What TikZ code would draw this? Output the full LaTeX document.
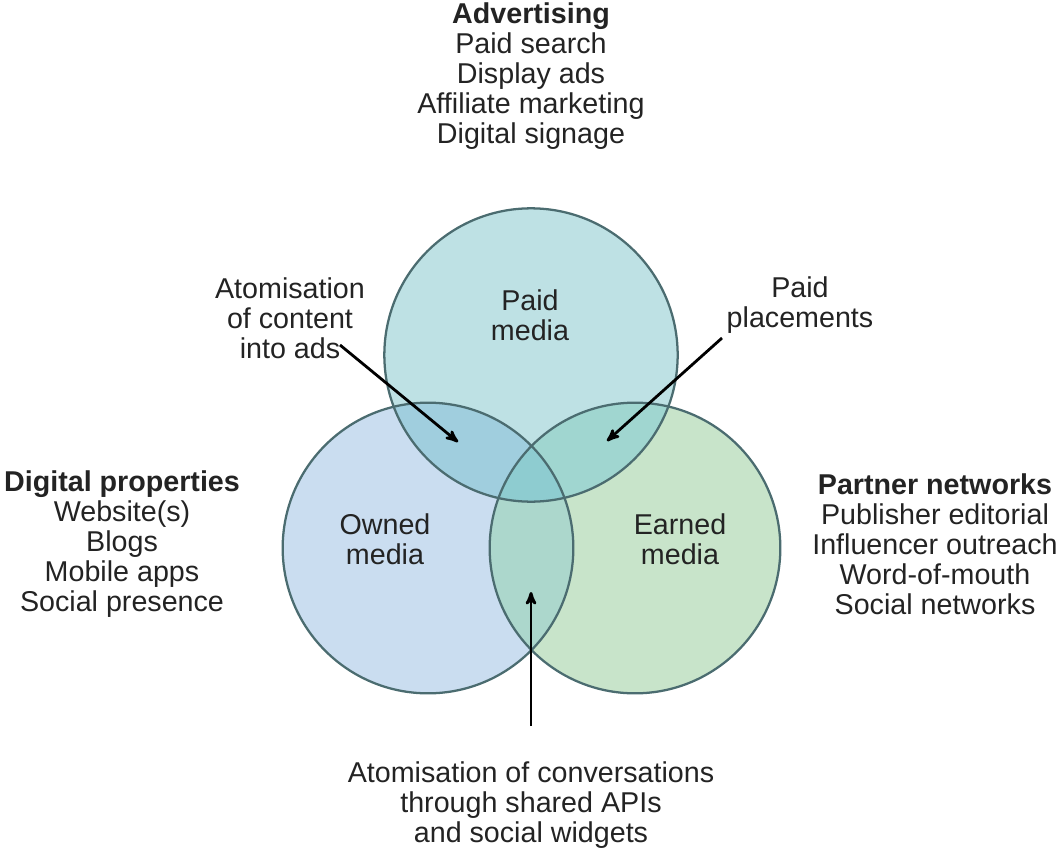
\documentclass[tikz,border=0pt]{standalone}
\usepackage{fontspec}
\setmainfont{Liberation Sans}
\usepackage{tikz}
\usetikzlibrary{arrows,positioning}

\definecolor{paidfill}{RGB}{190,225,228}
\definecolor{ownedfill}{RGB}{202,221,240}
\definecolor{earnedfill}{RGB}{200,228,202}
\definecolor{pofill}{RGB}{160,206,222}
\definecolor{pefill}{RGB}{160,214,208}
\definecolor{oefill}{RGB}{172,215,204}
\definecolor{allfill}{RGB}{142,204,208}
\definecolor{ringgray}{RGB}{75,108,112}
\definecolor{txtgray}{RGB}{35,35,35}

\begin{document}
\begin{tikzpicture}[x=0.75pt, y=-0.75pt, every node/.style={text=txtgray, align=center, font=\fontsize{21.5}{22.5}\selectfont},
	ring/.style={draw=ringgray, line width=1.7pt},
	post/.style={->, >=stealth', line width=2.1pt, black}]
			
	\useasboundingbox (0,0) rectangle (1062,852);
	
	% circle centres
	\coordinate (P) at (531,355);
	\coordinate (O) at (428,548);
	\coordinate (E) at (635,548);
	
	\fill[paidfill] (P) circle (110pt);
	\fill[ownedfill] (O) circle (109pt);
	\fill[earnedfill] (E) circle (109pt);
	
	\begin{scope}
		\clip (P) circle (110pt);
		\fill[pofill] (O) circle (109pt);
		\fill[pefill] (E) circle (109pt);
		\clip (O) circle (109pt);
		\fill[allfill] (E) circle (109pt);
	\end{scope}
	\begin{scope}
		\clip (O) circle (109pt);
		\fill[oefill] (E) circle (109pt);
		\clip (P) circle (110pt);
		\fill[allfill] (E) circle (109pt);
	\end{scope}
	
	\draw[ring] (P) circle (110pt);
	\draw[ring] (O) circle (109pt);
	\draw[ring] (E) circle (109pt);
	
	% media names
	\node (paidlbl) at (530,315) {Paid\\media};
	\node (ownedlbl) at (385,539) {Owned\\media};
	\node (earnedlbl) at (680,539) {Earned\\media};
	
	% outer lists
	\node (adv) at (531,76)
		{\textbf{Advertising}\\Paid search\\Display ads\\Affiliate marketing\\Digital signage};
	\node (digital) at (122,544)
		{\textbf{Digital properties}\\Website(s)\\Blogs\\Mobile apps\\Social presence};
	\node (partner) at (935,544)
		{\textbf{Partner networks}\\Publisher editorial\\Influencer outreach\\Word-of-mouth\\Social networks};
	
	% overlap notes
	\node (atomads) at (290,318) {Atomisation\\of content\\into ads};
	\node (placements) at (800,305) {Paid\\placements};
	\node (atomconv) at (531,805)
		{Atomisation of conversations\\through shared APIs\\and social widgets};
	
	\coordinate (adsfrom) at (340,345);
	\coordinate (adsto) at (458,442);
	\coordinate (placefrom) at (722,338);
	\coordinate (placeto) at (607,441);
	\coordinate (convfrom) at (531,726);
	\coordinate (convto) at (531,592);
	
	\draw[post] (adsfrom) -- (adsto);
	\draw[post] (placefrom) -- (placeto);
	\draw[post] (convfrom) -- (convto);
	
\end{tikzpicture}
\end{document}
